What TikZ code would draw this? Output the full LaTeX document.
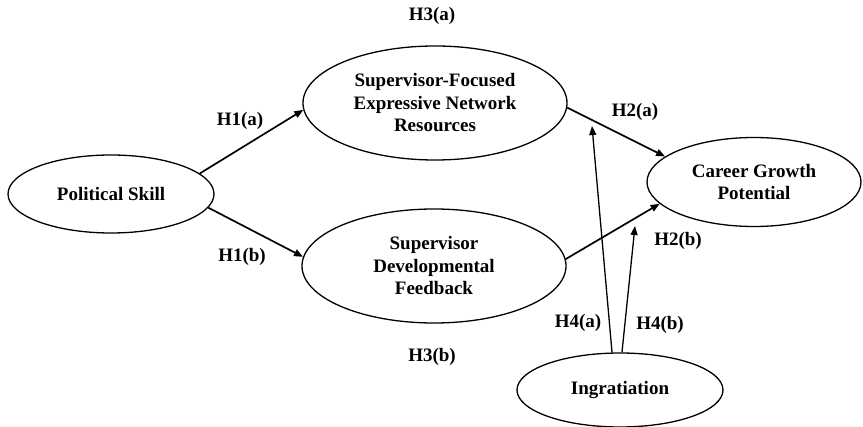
\documentclass[tikz,border=0pt]{standalone}
\usepackage{fontspec}
\setmainfont{Liberation Serif}
\usetikzlibrary{shapes.geometric,arrows.meta}
\begin{document}
\begin{tikzpicture}[x=1pt,y=-1pt,
  every node/.style={font=\fontsize{19}{22.5}\selectfont\bfseries},
  construct/.style={ellipse,draw,line width=1.3pt,inner sep=0pt,align=center},
  path/.style={line width=1.7pt,-{Triangle[length=9pt,width=7pt]}},
  modpath/.style={line width=1.3pt,-{Triangle[length=9pt,width=7pt]}},
  lbl/.style={inner sep=0pt}]
\useasboundingbox (0,0) rectangle (863,427);
\node[construct,minimum width=206pt,minimum height=78pt] (ps) at (111,194) {Political Skill};
\node[construct,minimum width=264pt,minimum height=114pt] (sf) at (435,103) {Supervisor-Focused\\Expressive Network\\Resources};
\node[construct,minimum width=264pt,minimum height=114pt] (sd) at (434,266) {Supervisor\\Developmental\\Feedback};
\node[construct,minimum width=214pt,minimum height=89pt] (cg) at (754,182) {Career Growth\\Potential};
\node[construct,minimum width=206pt,minimum height=74pt] (ing) at (620,390) {Ingratiation};
\coordinate (t4a) at (592,126);
\coordinate (t4b) at (635,226);
\draw[path] (ps.13) -- (sf.183.5);
\draw[path] (ps.-8) -- (sd.176);
\draw[path] (sf.-2) -- (cg.164.5);
\draw[path] (sd.3.5) -- (cg.193.9);
\draw[modpath] (ing.102) -- (t4a);
\draw[modpath] (ing.87) -- (t4b);
\node[lbl] (h3a) at (432,16) {H3(a)};
\node[lbl] (h3b) at (432,357) {H3(b)};
\node[lbl] (h1a) at (240,121) {H1(a)};
\node[lbl] (h1b) at (242,257) {H1(b)};
\node[lbl] (h2a) at (635,112) {H2(a)};
\node[lbl] (h2b) at (678,241) {H2(b)};
\node[lbl] (h4a) at (578,323) {H4(a)};
\node[lbl] (h4b) at (660,325) {H4(b)};
\end{tikzpicture}
\end{document}
